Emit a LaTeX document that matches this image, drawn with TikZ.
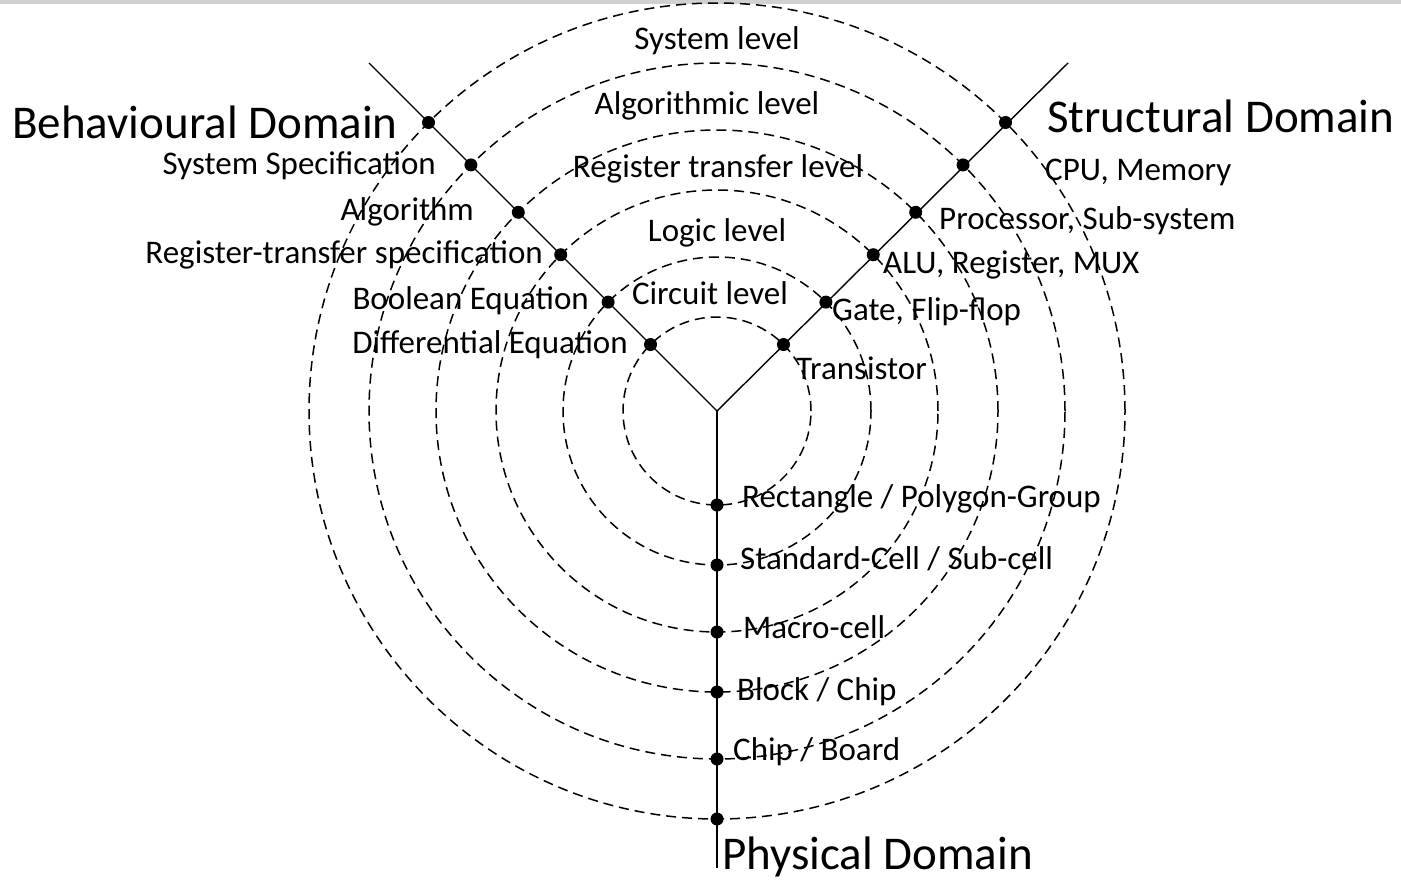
\documentclass[tikz,border=0pt]{standalone}
\usepackage{fontspec}
\setmainfont{Carlito}
\usetikzlibrary{calc}
\begin{document}
\begin{tikzpicture}[x=1pt,y=-1pt,
  ring/.style={line width=1.5pt,dash pattern=on 10pt off 6pt},
  axis/.style={line width=1.4pt},
  dot/.style={circle,fill=black,inner sep=0pt,minimum size=13pt},
  lvl/.style={font=\fontsize{33}{36}\selectfont,inner sep=0pt},
  dom/.style={font=\fontsize{47}{50}\selectfont,inner sep=0pt}]
% page frame and top strip
\useasboundingbox (0,0) rectangle (1401,881);
\fill[white] (0,0) rectangle (1401,881);
\fill[black!18] (0,0) rectangle (1401,4);
% centre and axis ends
\coordinate (C) at (717,411);
\coordinate (BE) at (369,63);
\coordinate (SE) at (1068,63);
\coordinate (PE) at (717,868);
% concentric abstraction levels
\foreach \r in {94,154,221,281,348,408}
  \draw[ring] (C) circle[radius=\r pt];
% the three domain axes
\draw[axis] (C) -- (BE);
\draw[axis] (C) -- (SE);
\draw[axis] (C) -- (PE);
% intersection dots: i=1 outermost ... i=6 innermost
\foreach \r [count=\i] in {408,348,281,221,154,94}{
  \node[dot] (b\i) at ($(C)+(135:\r pt)$) {};
  \node[dot] (s\i) at ($(C)+(45:\r pt)$) {};
  \node[dot] (p\i) at ($(C)+(270:\r pt)$) {};
}
% level names
\node[lvl] (l1) at (717,41) {System level};
\node[lvl] (l2) at (707,106) {Algorithmic level};
\node[lvl] (l3) at (718,169) {Register transfer level};
\node[lvl] (l4) at (717,233) {Logic level};
\node[lvl] (l5) at (710,293) {Circuit level};
% domain names
\node[dom,anchor=east] (bd) at (398,122) {Behavioural Domain};
\node[dom,anchor=west] (sd) at (1047,116) {Structural Domain};
\node[dom,anchor=west] (pd) at (722,857) {Physical Domain};
% behavioural domain entries
\node[lvl,anchor=east] at (436,166) {System Specification};
\node[lvl,anchor=east] at (474,212) {Algorithm};
\node[lvl,anchor=east] at (543,255) {Register-transfer specification};
\node[lvl,anchor=east] at (589,301) {Boolean Equation};
\node[lvl,anchor=east] at (628,345) {Differential Equation};
% structural domain entries
\node[lvl,anchor=west] at (1045,172) {CPU, Memory};
\node[lvl,anchor=west] at (939,221) {Processor, Sub-system};
\node[lvl,anchor=west] at (883,265) {ALU, Register, MUX};
\node[lvl,anchor=west] at (832,312) {Gate, Flip-flop};
\node[lvl,anchor=west] at (796,368) {Transistor};
% physical domain entries
\node[lvl,anchor=west] at (742,499) {Rectangle / Polygon-Group};
\node[lvl,anchor=west] at (740,559) {Standard-Cell / Sub-cell};
\node[lvl,anchor=west] at (743,627) {Macro-cell};
\node[lvl,anchor=west] at (737,692) {Block / Chip};
\node[lvl,anchor=west] at (733,752) {Chip / Board};
\end{tikzpicture}
\end{document}
